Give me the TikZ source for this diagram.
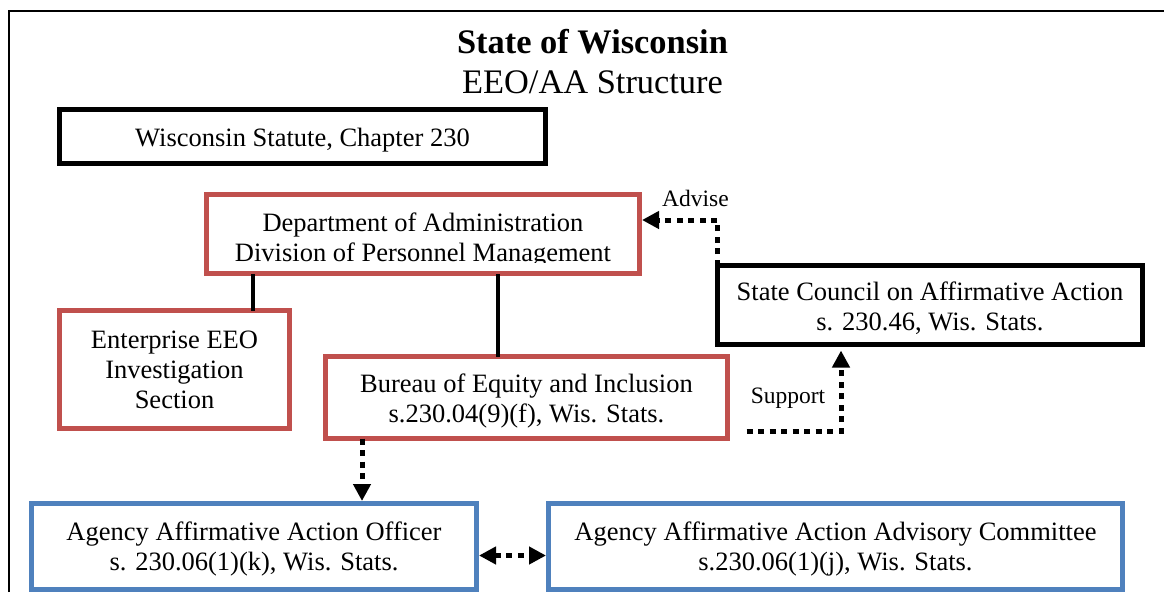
\documentclass[tikz,border=0pt]{standalone}
\usepackage{fontspec}
\setmainfont{Liberation Serif}
\usetikzlibrary{arrows.meta}
\definecolor{boxred}{HTML}{C0504D}
\definecolor{boxblue}{HTML}{4F81BD}
\begin{document}
\begin{tikzpicture}[x=1pt,y=-1pt,
  every node/.style={inner sep=0pt, outer sep=0pt},
  bodytext/.style={font=\fontsize{26.5}{30}\selectfont, align=center},
  labeltext/.style={font=\fontsize{23.5}{26}\selectfont},
  orgbox/.style={draw, rectangle, line width=5pt},
  blackbox/.style={orgbox, draw=black},
  redbox/.style={orgbox, draw=boxred},
  bluebox/.style={orgbox, draw=boxblue},
  solidlink/.style={draw=black, line width=3.5pt},
  dotlink/.style={draw=black, line width=5pt, dash pattern=on 6pt off 5.5pt},
  tip/.tip={Triangle[length=17pt,width=17pt]}
]
\useasboundingbox (0,0) rectangle (1164,592);

% page frame
\draw[line width=2.5pt] (9,592) -- (9,11) -- (1164,11);

% heading
\node[anchor=base, font=\fontsize{34.4}{40}\selectfont\bfseries] (title) at (592.5,53) {State of Wisconsin};
\node[anchor=base, font=\fontsize{34.4}{40}\selectfont] (subtitle) at (592.5,93) {EEO/AA Structure};

% boxes
\node[blackbox, minimum width=486pt, minimum height=54pt] (stat) at (302.5,136.5) {};
\node[redbox, minimum width=433pt, minimum height=79pt] (doa) at (423,234) {};
\node[redbox, minimum width=230pt, minimum height=118pt] (ent) at (174.5,369.5) {};
\node[redbox, minimum width=402pt, minimum height=82pt] (bur) at (526.5,397.5) {};
\node[blackbox, minimum width=425pt, minimum height=79pt] (cou) at (930,305) {};
\node[bluebox, minimum width=445pt, minimum height=86pt] (off) at (254,546.5) {};
\node[bluebox, minimum width=574pt, minimum height=86pt] (com) at (835.5,546.5) {};

% box texts
\node[bodytext] (statT) at ([yshift=-3.5pt]stat.center) {Wisconsin Statute, Chapter 230};
\begin{scope}
  % the text frame of this box cuts off the descenders of its last line
  \clip (206,194) rectangle (640,262);
  \node[bodytext] (doaT) at ([yshift=-6pt]doa.center) {Department of Administration\\Division of Personnel Management};
\end{scope}
\node[bodytext] (entT) at ([yshift=-0.5pt]ent.center) {Enterprise EEO\\Investigation\\Section};
\node[bodytext] (burT) at ([yshift=-3pt]bur.center) {Bureau of Equity and Inclusion\\s.230.04(9)(f), Wis. Stats.};
\node[bodytext] (couT) at ([yshift=-3pt]cou.center) {State Council on Affirmative Action\\s. 230.46, Wis. Stats.};
\node[bodytext] (offT) at ([yshift=-2.5pt]off.center) {Agency Affirmative Action Officer\\s. 230.06(1)(k), Wis. Stats.};
\node[bodytext] (comT) at ([yshift=-2.5pt]com.center) {Agency Affirmative Action Advisory Committee\\s.230.06(1)(j), Wis. Stats.};

% reporting lines
\coordinate (entTap) at ([xshift=78.5pt]ent.north);
\draw[solidlink] (entTap) -- (entTap |- doa.south);
\coordinate (burTap) at ([xshift=-28.5pt]bur.north);
\draw[solidlink] (burTap) -- (burTap |- doa.south);

% advisory and support links
\draw[dotlink, -tip, shorten >=2.5pt] (cou.north west) |- ([yshift=14pt]doa.east);
\node[labeltext, anchor=base] (advise) at (695.5,206) {Advise};

\coordinate (supStart) at ([xshift=19pt,yshift=-33.5pt]bur.east);
\draw[dotlink, -tip, shorten >=6pt] (supStart) -| ([xshift=-89pt]cou.south);
\node[labeltext, anchor=base] (support) at (788,403) {Support};

\coordinate (offTap) at ([xshift=-164.5pt]bur.south);
\draw[dotlink, -tip, shorten >=2.5pt] (offTap) -- (offTap |- off.north);

\draw[dotlink, tip-tip, shorten <=2.5pt, shorten >=2.5pt] ([yshift=-9pt]off.east) -- ([yshift=-9pt]com.west);
\end{tikzpicture}
\end{document}
